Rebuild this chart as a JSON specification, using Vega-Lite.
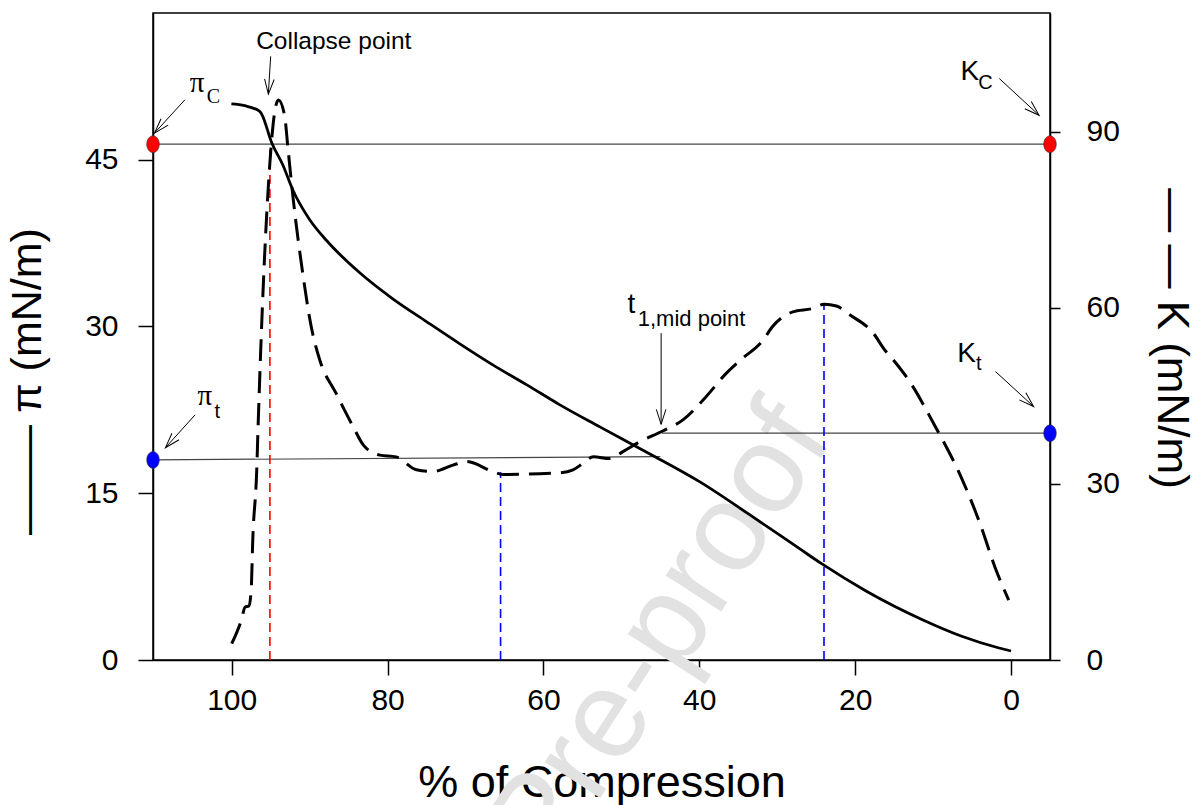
{
  "$schema": "https://vega.github.io/schema/vega-lite/v6.json",
  "autosize": {"type": "none"},
  "width": 897,
  "height": 647,
  "padding": {"left": 153, "top": 13, "right": 146, "bottom": 145},
  "background": "white",
  "config": {
    "font": "Liberation Sans",
    "view": {"stroke": "#000", "strokeWidth": 1.5},
    "axis": {
      "grid": false, "domainColor": "#000", "domainWidth": 1.5, "tickColor": "#000", "tickWidth": 1.5,
      "labelColor": "#000", "titleColor": "#000", "labelFont": "Liberation Sans", "titleFont": "Liberation Sans",
      "titleFontWeight": "normal", "labelFontSize": 30, "titleFontSize": 43
    }
  },
  "datasets": {
    "pi": [
      {"c": 100.04, "pi": 50.02}, {"c": 98.33, "pi": 49.86}, {"c": 96.41, "pi": 49.35}, {"c": 96.15, "pi": 49.1},
      {"c": 94.87, "pi": 46.53}, {"c": 93.45, "pi": 44.55}, {"c": 92.17, "pi": 42.3}, {"c": 89.99, "pi": 39.6},
      {"c": 87.8, "pi": 37.71}, {"c": 83.57, "pi": 34.83}, {"c": 79.33, "pi": 32.49}, {"c": 74.97, "pi": 30.42},
      {"c": 70.73, "pi": 28.44}, {"c": 66.5, "pi": 26.55}, {"c": 62.13, "pi": 24.75}, {"c": 57.89, "pi": 22.95},
      {"c": 52.76, "pi": 20.97}, {"c": 46.34, "pi": 18.54}, {"c": 39.92, "pi": 16.02}, {"c": 33.5, "pi": 13.05},
      {"c": 27.09, "pi": 9.99}, {"c": 24.26, "pi": 8.64}, {"c": 18.61, "pi": 6.21}, {"c": 11.3, "pi": 3.6},
      {"c": 6.42, "pi": 2.16}, {"c": 1.54, "pi": 1.08}, {"c": 0.0, "pi": 0.81}
    ],
    "k": [
      {"c": 100.0, "k": 2.8}, {"c": 98.7, "k": 7.1}, {"c": 98.3, "k": 9.0}, {"c": 97.8, "k": 9.2},
      {"c": 97.5, "k": 11.9}, {"c": 97.3, "k": 20.4}, {"c": 96.8, "k": 32.0}, {"c": 96.6, "k": 40.4},
      {"c": 95.9, "k": 65.3}, {"c": 95.1, "k": 84.7}, {"c": 94.5, "k": 93.2}, {"c": 94.0, "k": 95.4},
      {"c": 93.2, "k": 92.6}, {"c": 92.8, "k": 87.4}, {"c": 92.1, "k": 78.4}, {"c": 90.9, "k": 66.0},
      {"c": 89.8, "k": 56.8}, {"c": 88.7, "k": 51.1}, {"c": 86.6, "k": 45.4}, {"c": 84.4, "k": 39.7},
      {"c": 83.1, "k": 36.6}, {"c": 81.0, "k": 34.9}, {"c": 78.9, "k": 34.6}, {"c": 76.3, "k": 32.4},
      {"c": 74.2, "k": 32.1}, {"c": 71.6, "k": 33.2}, {"c": 69.9, "k": 33.8}, {"c": 66.5, "k": 32.1},
      {"c": 65.2, "k": 31.6}, {"c": 57.9, "k": 31.9}, {"c": 56.2, "k": 32.4}, {"c": 54.9, "k": 33.5},
      {"c": 53.6, "k": 34.6}, {"c": 51.5, "k": 34.3}, {"c": 49.8, "k": 35.5}, {"c": 47.6, "k": 37.2},
      {"c": 44.7, "k": 39.0}, {"c": 42.1, "k": 40.9}, {"c": 39.1, "k": 44.9}, {"c": 36.7, "k": 48.6},
      {"c": 34.7, "k": 51.1}, {"c": 31.8, "k": 54.5}, {"c": 30.6, "k": 56.8}, {"c": 28.0, "k": 59.3},
      {"c": 25.4, "k": 59.9}, {"c": 24.0, "k": 60.6}, {"c": 22.4, "k": 60.3}, {"c": 20.7, "k": 58.8},
      {"c": 17.7, "k": 55.7}, {"c": 16.2, "k": 52.8}, {"c": 15.1, "k": 51.1}, {"c": 12.7, "k": 46.8},
      {"c": 11.0, "k": 42.9}, {"c": 9.9, "k": 40.2}, {"c": 7.8, "k": 35.0}, {"c": 6.9, "k": 32.6},
      {"c": 5.7, "k": 29.0}, {"c": 4.0, "k": 23.3}, {"c": 2.0, "k": 15.6}, {"c": 0.3, "k": 10.2}
    ],
    "hlines": [
      {"c": 110.1, "pi": 46.4, "c2": -5, "pi2": 46.4},
      {"c": 110.1, "pi": 18.0, "c2": 45.0, "pi2": 18.3},
      {"c": 44.8, "pi": 20.4, "c2": -5, "pi2": 20.4}
    ],
    "vlines": [
      {"c": 95.1, "pi": 0, "top": 45.9, "kind": "collapse"},
      {"c": 65.5, "pi": 0, "top": 16.9, "kind": "transition"},
      {"c": 24.0, "pi": 0, "top": 32.0, "kind": "transition"}
    ],
    "dots": [
      {"c": 110.1, "pi": 46.4, "kind": "collapse"},
      {"c": -5, "pi": 46.4, "kind": "collapse"},
      {"c": 110.1, "pi": 18.0, "kind": "transition"},
      {"c": -5, "pi": 20.4, "kind": "transition"}
    ],
    "arrows": [
      {"c": 106.0, "pi": 50.4, "c2": 109.9, "pi2": 47.4},
      {"c": 95.0, "pi": 54.3, "c2": 95.3, "pi2": 50.9},
      {"c": 1.5, "pi": 52.3, "c2": -3.6, "pi2": 49.0},
      {"c": 104.7, "pi": 22.05, "c2": 108.5, "pi2": 19.1},
      {"c": 44.9, "pi": 29.4, "c2": 44.9, "pi2": 21.2},
      {"c": 2.0, "pi": 25.95, "c2": -2.9, "pi2": 22.8}
    ],
    "heads": [
      {"c": 109.9, "pi": 47.4, "dir": 42},
      {"c": 95.3, "pi": 50.9, "dir": 4},
      {"c": -3.6, "pi": 49.0, "dir": -47.5},
      {"c": 108.5, "pi": 19.1, "dir": 42},
      {"c": 44.9, "pi": 21.2, "dir": 0},
      {"c": -2.9, "pi": 22.8, "dir": -47.4}
    ],
    "collapse": [{"c": 86.9, "pi": 55.0, "label": "Collapse point"}],
    "greek": [{"c": 105.4, "pi": 51.1, "label": "π"}, {"c": 104.4, "pi": 22.95, "label": "π"}],
    "subserif": [{"c": 103.2, "pi": 50.1, "label": "C"}],
    "subsans": [{"c": 102.2, "pi": 21.8, "label": "t"}, {"c": 4.2, "pi": 51.4, "label": "C"}, {"c": 4.5, "pi": 26.1, "label": "t"}],
    "big": [{"c": 6.5, "pi": 52.2, "label": "K"}, {"c": 6.9, "pi": 26.8, "label": "K"}, {"c": 49.2, "pi": 31.2, "label": "t"}],
    "mid": [{"c": 47.9, "pi": 30.0, "label": "1,mid point"}],
    "watermark": [{"c": 59.15, "pi": -19.35, "label": "Pre-proof"}]
  },
  "encoding": {
    "x": {
      "field": "c", "type": "quantitative",
      "scale": {"domain": [-5, 110.1], "reverse": true, "nice": false, "zero": false},
      "axis": {"values": [0, 20, 40, 60, 80, 100], "tickSize": 15, "labelPadding": 10, "labelFlush": false,
               "title": "% of Compression", "titleFontSize": 45, "titleY": 136, "titleBaseline": "alphabetic"}
    }
  },
  "layer": [
    {
      "encoding": {
        "y": {
          "field": "pi", "type": "quantitative",
          "scale": {"domain": [0, 58.2], "nice": false, "zero": false},
          "axis": {"orient": "left", "values": [0, 15, 30, 45], "tickSize": 15, "labelPadding": 20,
                   "title": "——–  π (mN/m)", "titleAngle": -90, "titleX": -113, "titleY": 368,
                   "titleAlign": "center", "titleBaseline": "alphabetic"}
        }
      },
      "layer": [
        {"data": {"name": "watermark"},
         "mark": {"type": "text", "fontSize": 125, "angle": -57, "align": "left", "baseline": "alphabetic", "color": "#e2e2e2"},
         "encoding": {"text": {"field": "label"}}},
        {"data": {"name": "hlines"},
         "mark": {"type": "rule", "color": "#444", "strokeWidth": 1.2},
         "encoding": {"x2": {"field": "c2"}, "y2": {"field": "pi2"}}},
        {"data": {"name": "vlines"},
         "mark": {"type": "rule", "strokeWidth": 1.6, "strokeDash": [9, 5]},
         "encoding": {"y2": {"field": "top"},
                      "color": {"field": "kind", "type": "nominal", "scale": {"domain": ["collapse", "transition"], "range": ["#ff0000", "#0000ff"]}, "legend": null}}},
        {"data": {"name": "pi"},
         "mark": {"type": "line", "color": "#000", "strokeWidth": 2.8, "interpolate": "monotone"},
         "encoding": {}},
        {"data": {"name": "arrows"},
         "mark": {"type": "rule", "color": "#000", "strokeWidth": 1},
         "encoding": {"x2": {"field": "c2"}, "y2": {"field": "pi2"}}},
        {"data": {"name": "heads"},
         "mark": {"type": "point", "shape": "M-0.4,-1.25L0,0L0.4,-1.25", "size": 576, "filled": false, "stroke": "#000", "strokeWidth": 1, "opacity": 1},
         "encoding": {"angle": {"field": "dir", "type": "quantitative", "scale": null}}},
        {"data": {"name": "dots"},
         "mark": {"type": "point", "shape": "M-0.75,0A0.75,1 0 1,0 0.75,0A0.75,1 0 1,0 -0.75,0Z", "size": 280, "filled": true, "opacity": 1, "stroke": "#333", "strokeWidth": 0.6},
         "encoding": {"color": {"field": "kind", "type": "nominal", "scale": {"domain": ["collapse", "transition"], "range": ["#ff0000", "#0000ff"]}, "legend": null}}},
        {"data": {"name": "collapse"},
         "mark": {"type": "text", "fontSize": 24.5, "align": "center", "baseline": "alphabetic", "color": "#000"},
         "encoding": {"text": {"field": "label"}}},
        {"data": {"name": "greek"},
         "mark": {"type": "text", "font": "Liberation Serif", "fontSize": 29, "align": "left", "baseline": "alphabetic", "color": "#000"},
         "encoding": {"text": {"field": "label"}}},
        {"data": {"name": "subserif"},
         "mark": {"type": "text", "font": "Liberation Serif", "fontSize": 20, "align": "left", "baseline": "alphabetic", "color": "#000"},
         "encoding": {"text": {"field": "label"}}},
        {"data": {"name": "subsans"},
         "mark": {"type": "text", "fontSize": 20, "align": "left", "baseline": "alphabetic", "color": "#000"},
         "encoding": {"text": {"field": "label"}}},
        {"data": {"name": "big"},
         "mark": {"type": "text", "fontSize": 28, "align": "left", "baseline": "alphabetic", "color": "#000"},
         "encoding": {"text": {"field": "label"}}},
        {"data": {"name": "mid"},
         "mark": {"type": "text", "fontSize": 22, "align": "left", "baseline": "alphabetic", "color": "#000"},
         "encoding": {"text": {"field": "label"}}}
      ]
    },
    {
      "data": {"name": "k"},
      "mark": {"type": "line", "color": "#000", "strokeWidth": 3, "strokeDash": [22, 10], "interpolate": "monotone"},
      "encoding": {
        "y": {
          "field": "k", "type": "quantitative",
          "scale": {"domain": [0, 110.2], "nice": false, "zero": false},
          "axis": {"orient": "right", "values": [0, 30, 60, 90], "tickSize": 10, "labelPadding": 26,
                   "title": "— —  K (mN/m)", "titleFontSize": 44, "titleAngle": 90, "titleX": 107, "titleY": 325,
                   "titleAlign": "center", "titleBaseline": "alphabetic"}
        }
      }
    }
  ],
  "resolve": {"scale": {"y": "independent"}}
}
